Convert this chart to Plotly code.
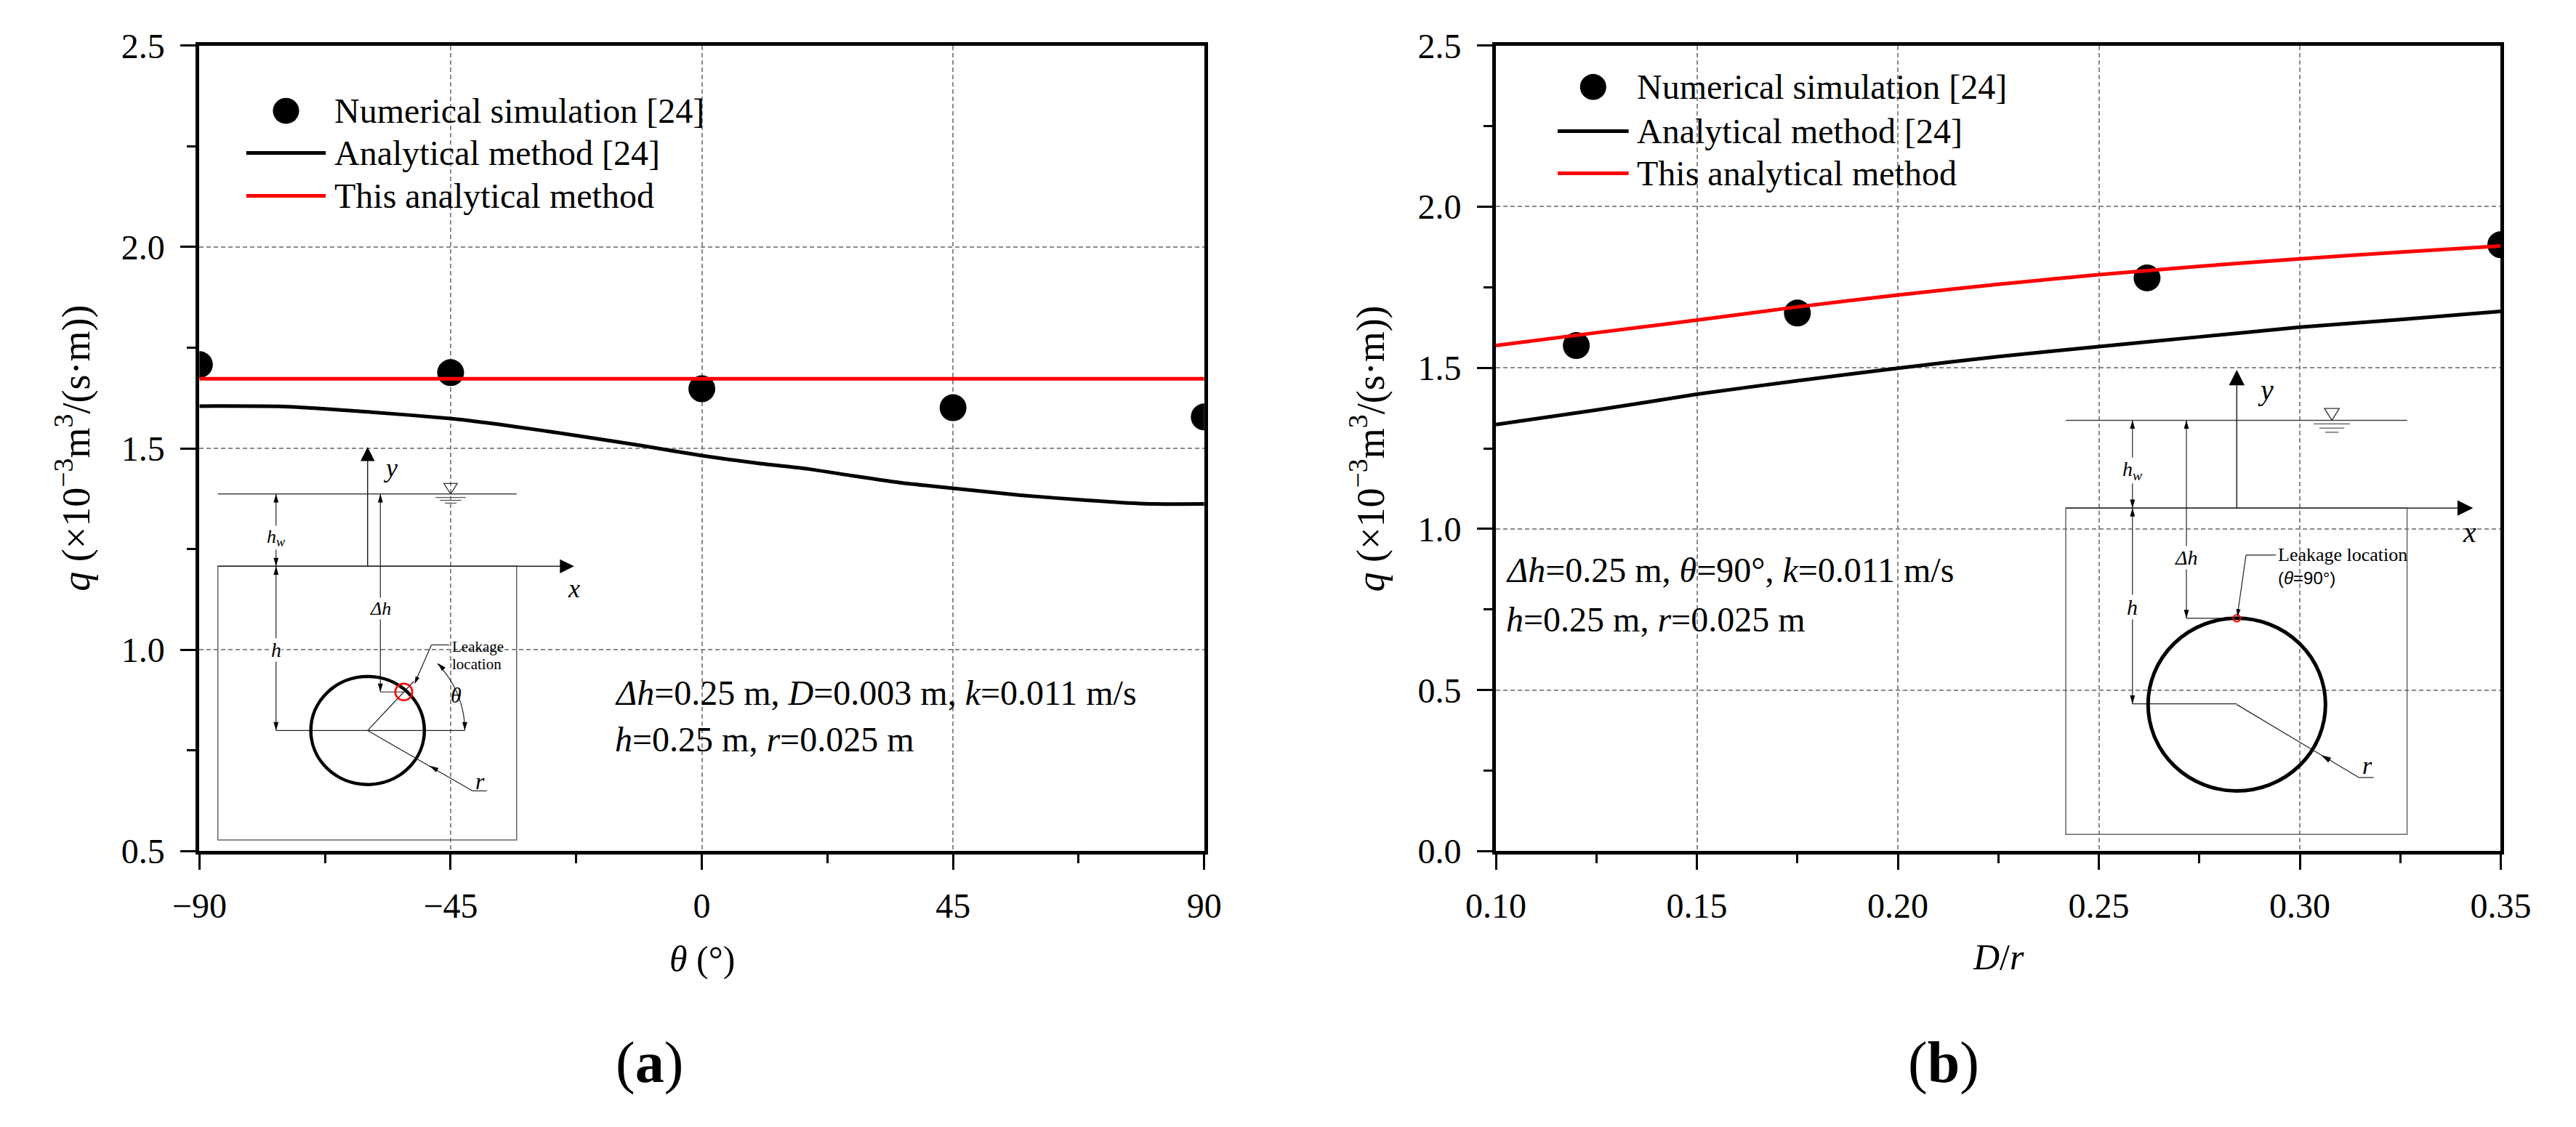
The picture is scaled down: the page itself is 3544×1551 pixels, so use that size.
import math
import plotly.graph_objects as go

# ---- values ----
# (a) leakage position
theta_sim = [-90, -45, 0, 45, 90]
q_sim_a = [1.708, 1.688, 1.648, 1.601, 1.578]
theta_ref = [-90, -75, -60, -45, -35, -22, -10, 0, 10, 19, 27, 36, 45, 57, 69, 81, 90]
q_ref_a = [1.605, 1.604, 1.591, 1.574, 1.557, 1.531, 1.505, 1.482, 1.463, 1.449,
           1.432, 1.414, 1.401, 1.384, 1.371, 1.362, 1.362]
theta_this = [-90, 90]
q_this_a = [1.673, 1.673]

# (b) leak size
dr_sim = [0.12, 0.175, 0.262, 0.35]
q_sim_b = [1.569, 1.670, 1.779, 1.882]
dr_curve = [0.100, 0.125, 0.150, 0.175, 0.200, 0.225, 0.250, 0.275, 0.300, 0.325, 0.350]
q_ref_b = [1.324, 1.369, 1.418, 1.460, 1.499, 1.535, 1.566, 1.596, 1.626, 1.650, 1.675]
q_this_b = [1.569, 1.609, 1.648, 1.689, 1.726, 1.759, 1.789, 1.815, 1.838, 1.859, 1.878]

theta_ticks = [-90, -45, 0, 45, 90]
dr_ticks = [0.10, 0.15, 0.20, 0.25, 0.30, 0.35]
q_ticks_a = [0.5, 1.0, 1.5, 2.0, 2.5]
q_ticks_b = [0.0, 0.5, 1.0, 1.5, 2.0, 2.5]

legend_names = ["Numerical simulation [24]", "Analytical method [24]", "This analytical method"]

W, H = 3544, 1551
SERIF = "Liberation Serif"
SANS = "Liberation Sans"


def px(x):
    return x / W


def py(y):
    return 1 - y / H


shapes = []
annotations = []


def seg(x0, y0, x1, y1, w=1.3, c="#222"):
    shapes.append(dict(type="line", xref="paper", yref="paper", x0=px(x0), y0=py(y0),
                       x1=px(x1), y1=py(y1), line=dict(color=c, width=w), layer="above"))


def head(tx, ty, dx, dy, ln=12, wd=7):
    n = math.hypot(dx, dy)
    ux, uy = dx / n, dy / n
    bx, by = tx - ux * ln, ty - uy * ln
    ox, oy = -uy * wd / 2, ux * wd / 2
    path = "M{},{} L{},{} L{},{} Z".format(px(tx), py(ty), px(bx + ox), py(by + oy),
                                         px(bx - ox), py(by - oy))
    shapes.append(dict(type="path", xref="paper", yref="paper", path=path,
                       fillcolor="black", line=dict(width=0), layer="above"))


def dim(x, y0, y1):
    seg(x, y0, x, y1, 1.2)
    head(x, y0, 0, -1)
    head(x, y1, 0, 1)


def ell(cx, cy, rx, ry, w=0, c="black", fill=None):
    d = dict(type="circle", xref="paper", yref="paper", x0=px(cx - rx), x1=px(cx + rx),
             y0=py(cy + ry), y1=py(cy - ry), line=dict(color=c, width=w), layer="above")
    if fill:
        d["fillcolor"] = fill
    shapes.append(d)


def rect(x0, y0, x1, y1, fill=None, lc="#666", lw=0, layer="above"):
    d = dict(type="rect", xref="paper", yref="paper", x0=px(x0), x1=px(x1),
             y0=py(y1), y1=py(y0), line=dict(color=lc, width=lw), layer=layer)
    if fill:
        d["fillcolor"] = fill
    shapes.append(d)


def txt(x, y, s, size, xanchor="center", bg=None, family=SERIF, angle=0):
    d = dict(xref="paper", yref="paper", x=px(x), y=py(y), text=s, showarrow=False,
             xanchor=xanchor, yanchor="middle", textangle=angle,
             font=dict(family=family, size=size, color="black"))
    if bg:
        d["bgcolor"] = bg
        d["borderpad"] = 0
    annotations.append(d)


def water(cx, ytip, tw, th, lines):
    path = "M{},{} L{},{} L{},{} Z".format(px(cx - tw / 2), py(ytip - th), px(cx + tw / 2),
                                         py(ytip - th), px(cx), py(ytip))
    shapes.append(dict(type="path", xref="paper", yref="paper", path=path,
                       line=dict(color="#333", width=1.3), layer="above"))
    for yy, ww in lines:
        seg(cx - ww / 2, yy, cx + ww / 2, yy, 1.3, "#555")


fig = go.Figure()

# panel (a)
fig.add_trace(go.Scatter(x=theta_sim, y=q_sim_a, mode="markers", name=legend_names[0],
                         marker=dict(size=37, color="black"), xaxis="x", yaxis="y"))
fig.add_trace(go.Scatter(x=theta_ref, y=q_ref_a, mode="lines", name=legend_names[1],
                         line=dict(color="black", width=5, shape="spline", smoothing=0.5),
                         xaxis="x", yaxis="y"))
fig.add_trace(go.Scatter(x=theta_this, y=q_this_a, mode="lines", name=legend_names[2],
                         line=dict(color="red", width=5), xaxis="x", yaxis="y"))

# panel (b)
fig.add_trace(go.Scatter(x=dr_sim, y=q_sim_b, mode="markers", name=legend_names[0],
                         marker=dict(size=37, color="black"), xaxis="x2", yaxis="y2"))
fig.add_trace(go.Scatter(x=dr_curve, y=q_ref_b, mode="lines", name=legend_names[1],
                         line=dict(color="black", width=5, shape="spline", smoothing=0.5),
                         xaxis="x2", yaxis="y2"))
fig.add_trace(go.Scatter(x=dr_curve, y=q_this_b, mode="lines", name=legend_names[2],
                         line=dict(color="red", width=5, shape="spline", smoothing=0.5),
                         xaxis="x2", yaxis="y2"))


def main_axis(dom, ticks, fmt, anchor, standoff):
    step = ticks[1] - ticks[0]
    return dict(domain=dom, range=[ticks[0], ticks[-1]], anchor=anchor, tickmode="linear",
                tick0=ticks[0], dtick=step, tickformat=fmt, ticks="outside", ticklen=21,
                tickwidth=3, tickcolor="black", showline=True, linewidth=5,
                linecolor="black", mirror=True, showgrid=True, gridcolor="#8a8a8a",
                gridwidth=2, griddash="6px,4px", zeroline=False,
                ticklabelstandoff=standoff,
                tickfont=dict(family=SERIF, size=48, color="black"),
                minor=dict(tick0=ticks[0], dtick=step / 2, ticks="outside", ticklen=12,
                           tickwidth=3, tickcolor="black", showgrid=False))


def inner_axis(ticks, overlay, anchor, side):
    step = ticks[1] - ticks[0]
    return dict(range=[ticks[0], ticks[-1]], overlaying=overlay, anchor=anchor, side=side,
                tickmode="linear", tick0=ticks[0], dtick=step, ticks="inside", ticklen=21,
                tickwidth=3, tickcolor="black", showticklabels=False, showline=False,
                showgrid=False, zeroline=False,
                minor=dict(tick0=ticks[0], dtick=step / 2, ticks="inside", ticklen=12,
                           tickwidth=3, tickcolor="black", showgrid=False))


ydom = [py(1186), py(38)]
xdom_a = [px(238), px(1654)]
xdom_b = [px(2065), px(3481)]

# legends (white boxes hide the grid behind them)
rect(285, 97, 965, 287, fill="white", layer="between")
ell(360, 131, 18.5, 18.5, fill="black")
seg(304, 191, 416, 191, 5, "black")
seg(304, 252, 416, 252, 5, "red")
for name, yy in zip(legend_names, [131, 191, 252]):
    txt(426, yy, name, 48, xanchor="left")

rect(2130, 38, 2800, 253, fill="white", layer="between")
ell(2202, 97, 18.5, 18.5, fill="black")
seg(2152, 160, 2252, 160, 5, "black")
seg(2152, 220, 2252, 220, 5, "red")
for name, yy in zip(legend_names, [97, 160, 220]):
    txt(2262, yy, name, 48, xanchor="left")

# parameter notes
txt(821, 960, "<i>Δh</i>=0.25 m, <i>D</i>=0.003 m, <i>k</i>=0.011 m/s", 48, xanchor="left")
txt(821, 1027, "<i>h</i>=0.25 m, <i>r</i>=0.025 m", 48, xanchor="left")
txt(2077, 785, "<i>Δh</i>=0.25 m, <i>θ</i>=90°, <i>k</i>=0.011 m/s", 48, xanchor="left")
txt(2077, 856, "<i>h</i>=0.25 m, <i>r</i>=0.025 m", 48, xanchor="left")

# axis titles and panel tags
ytitle = "<i>q</i> (×10<sup>−3</sup>m<sup>3</sup>/(s·m))"
txt(60, 612, ytitle, 54, angle=-90)
txt(1884, 612, ytitle, 54, angle=-90)
txt(946, 1340, "<i>θ</i> (°)", 50)
txt(2773, 1337, "<i>D</i>/<i>r</i>", 50)
txt(872, 1487, "(<b>a</b>)", 80)
txt(2696, 1487, "(<b>b</b>)", 80)

# sketch (a)
rect(258, 605, 781, 1180, fill="white", layer="between")
rect(264, 780, 685, 1170, lw=1.5)
seg(264, 677, 685, 677, 1.5, "#444")
water(592, 677, 19, 15, [(682, 42), (686, 30), (690, 16)])
seg(264, 780, 748, 780, 1.5)
head(766, 780, 1, 0, 20, 20)
seg(475, 780, 475, 628, 1.5)
head(475, 610, 0, -1, 20, 20)
txt(766, 812, "<i>x</i>", 36)
txt(508, 640, "<i>y</i>", 36)
dim(346, 677, 780)
txt(346, 739, "<i>h</i><sub><i>w</i></sub>", 26, bg="white")
dim(493, 677, 959)
txt(493, 840, "<i>Δh</i>", 26, bg="white")
seg(493, 959, 526, 959, 1.2)
dim(346, 780, 1014)
txt(346, 899, "<i>h</i>", 28, bg="white")
seg(346, 1014, 612, 1014, 1.2)
ell(475, 1014, 80, 77, 4.5)
seg(475, 1014, 540, 944, 1.2)
ell(526, 959, 12, 12, 2.5, "red")
seg(565, 892, 590, 892, 1.2)
seg(565, 892, 545, 938, 1.2)
head(541, 948, -20, 46, 11, 6)
txt(592, 895, "Leakage", 21, xanchor="left")
txt(592, 919, "location", 21, xanchor="left")
arc = [(475 + 137 * math.cos(math.radians(a)), 1014 - 137 * math.sin(math.radians(a)))
       for a in range(0, 45, 4)]
shapes.append(dict(type="path", xref="paper", yref="paper", layer="above",
                   line=dict(color="#222", width=1.2),
                   path="M" + " L".join("{},{}".format(px(a), py(b)) for a, b in arc)))
head(612, 1014, 0, 1, 12, 7)
head(574, 918, -0.69, -0.72, 12, 7)
txt(600, 963, "<i>θ</i>", 30)
seg(475, 1014, 623, 1100, 1.2)
seg(623, 1100, 643, 1100, 1.2)
head(562, 1064, -148, -86, 13, 7)
txt(634, 1086, "<i>r</i>", 32)

# sketch (b)
rect(2863, 488, 3478, 1183, fill="white", layer="between")
rect(2868, 697, 3349, 1162, lw=1.5)
seg(2868, 572, 3349, 572, 1.5, "#444")
water(3243, 572, 21, 17, [(577, 51), (583, 35), (589, 19)])
seg(2868, 697, 3422, 697, 1.5)
head(3442, 697, 1, 0, 22, 22)
seg(3109, 697, 3109, 520, 1.5)
head(3109, 500, 0, -1, 22, 22)
txt(3437, 732, "<i>x</i>", 40)
txt(3150, 529, "<i>y</i>", 40)
dim(2962, 572, 697)
txt(2962, 643, "<i>h</i><sub><i>w</i></sub>", 28, bg="white")
dim(3038, 572, 854)
txt(3038, 768, "<i>Δh</i>", 28, bg="white")
seg(3038, 854, 3109, 854, 1.2)
dim(2962, 697, 976)
txt(2962, 838, "<i>h</i>", 30, bg="white")
seg(2962, 976, 3109, 976, 1.2)
ell(3109, 977, 125, 123, 5)
ell(3109, 854, 5, 5, 2, "red")
seg(3122, 764, 3164, 764, 1.2)
seg(3122, 764, 3111, 842, 1.2)
head(3110, 852, -1, 8, 11, 6)
txt(3165, 764, "Leakage location", 26, xanchor="left")
txt(3165, 797, "(<i>θ</i>=90°)", 24, xanchor="left", family=SANS)
seg(3109, 977, 3281, 1081, 1.2)
seg(3281, 1081, 3302, 1081, 1.2)
head(3228, 1049, -172, -104, 14, 8)
txt(3293, 1064, "<i>r</i>", 34)

fig.update_layout(
    width=W, height=H, autosize=False, showlegend=False,
    margin=dict(l=0, r=0, t=0, b=0),
    paper_bgcolor="white", plot_bgcolor="white",
    font=dict(family=SERIF, color="black"),
    xaxis=main_axis(xdom_a, theta_ticks, "d", "y", 8),
    yaxis=main_axis(ydom, q_ticks_a, ".1f", "x", 12),
    xaxis2=main_axis(xdom_b, dr_ticks, ".2f", "y2", 8),
    yaxis2=main_axis(ydom, q_ticks_b, ".1f", "x2", 12),
    xaxis3=inner_axis(theta_ticks, "x", "y", "top"),
    yaxis3=inner_axis(q_ticks_a, "y", "x", "right"),
    xaxis4=inner_axis(dr_ticks, "x2", "y2", "top"),
    yaxis4=inner_axis(q_ticks_b, "y2", "x2", "right"),
    shapes=shapes,
    annotations=annotations,
)

fig.write_html("out.html", config={"displayModeBar": False},
               post_script="document.body.style.margin='0';")
